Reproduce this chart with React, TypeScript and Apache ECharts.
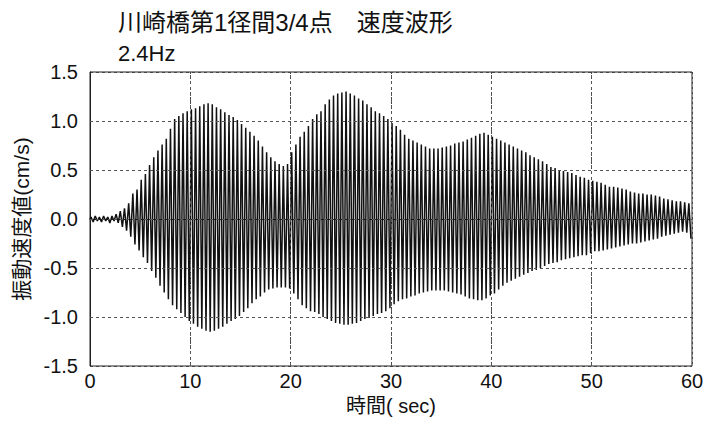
import React, { useEffect, useRef } from "react";
import * as echarts from "echarts";

const TITLE = "川崎橋第1径間3/4点　速度波形";
const SUBTITLE = "2.4Hz";
const X_NAME = "時間( sec)";
const Y_NAME = "振動速度値(cm/s)";
const FREQ_HZ = 2.4;
const X_TICKS = [0, 10, 20, 30, 40, 50, 60];
const Y_TICKS = [-1.5, -1.0, -0.5, 0.0, 0.5, 1.0, 1.5];

// positive peak of each cycle (cm/s)
const POS_PEAKS = [
  0.02, 0.03, 0.02, 0.03, 0.02, 0.03, 0.05, 0.08, 0.11, 0.16, 0.26, 0.3,
  0.4, 0.46, 0.55, 0.63, 0.7, 0.76, 0.82, 0.92, 1.02, 1.05, 1.08, 1.1,
  1.12, 1.13, 1.15, 1.17, 1.18, 1.17, 1.14, 1.12, 1.09, 1.06, 1.04, 1.01,
  0.97, 0.93, 0.89, 0.85, 0.8, 0.74, 0.68, 0.63, 0.59, 0.56, 0.54, 0.56,
  0.68, 0.76, 0.84, 0.89, 0.95, 1.02, 1.07, 1.1, 1.17, 1.22, 1.26, 1.28,
  1.29, 1.3, 1.28, 1.26, 1.23, 1.21, 1.17, 1.14, 1.1, 1.08, 1.05, 1.02,
  0.98, 0.95, 0.91, 0.86, 0.82, 0.8, 0.78, 0.76, 0.74, 0.72, 0.72, 0.72,
  0.73, 0.74, 0.75, 0.77, 0.78, 0.79, 0.81, 0.83, 0.85, 0.87, 0.88, 0.86,
  0.84, 0.82, 0.8, 0.78, 0.76, 0.74, 0.72, 0.7, 0.68, 0.65, 0.63, 0.61,
  0.59, 0.56, 0.53, 0.52, 0.5, 0.49, 0.48, 0.47, 0.45, 0.43, 0.42, 0.4,
  0.39, 0.38, 0.37, 0.35, 0.33, 0.33, 0.32, 0.31, 0.3, 0.28, 0.27, 0.26,
  0.26, 0.25, 0.25, 0.24, 0.23, 0.21, 0.2, 0.19, 0.18, 0.18, 0.17, 0.16,
];

// negative peak of each cycle (cm/s)
const NEG_PEAKS = [
  -0.03, -0.02, -0.03, -0.02, -0.04, -0.02, -0.04, -0.08, -0.12, -0.18, -0.26, -0.32,
  -0.39, -0.45, -0.53, -0.6, -0.68, -0.75, -0.82, -0.88, -0.92, -0.96, -1.0, -1.04,
  -1.07, -1.1, -1.12, -1.14, -1.15, -1.14, -1.12, -1.1, -1.07, -1.04, -1.02, -0.99,
  -0.95, -0.91, -0.86, -0.82, -0.79, -0.75, -0.72, -0.71, -0.7, -0.7, -0.7, -0.71,
  -0.76, -0.82, -0.88, -0.91, -0.94, -0.95, -0.97, -1.0, -1.02, -1.04, -1.06, -1.07,
  -1.08, -1.08, -1.07, -1.06, -1.04, -1.02, -1.01, -0.99, -0.97, -0.96, -0.94, -0.91,
  -0.87, -0.84, -0.82, -0.81, -0.79, -0.78, -0.76, -0.75, -0.74, -0.73, -0.73, -0.73,
  -0.73, -0.74, -0.75, -0.76, -0.77, -0.79, -0.81, -0.82, -0.83, -0.83, -0.81, -0.78,
  -0.76, -0.72, -0.68, -0.65, -0.63, -0.61, -0.59, -0.57, -0.55, -0.53, -0.52, -0.5,
  -0.48, -0.46, -0.45, -0.44, -0.42, -0.41, -0.4, -0.39, -0.38, -0.37, -0.37, -0.35,
  -0.33, -0.33, -0.32, -0.31, -0.3, -0.29, -0.28, -0.27, -0.26, -0.25, -0.25, -0.24,
  -0.23, -0.22, -0.21, -0.2, -0.18, -0.17, -0.16, -0.15, -0.14, -0.13, -0.14, -0.2,
];

const FONT = "'Liberation Sans', Arial, sans-serif";
const CJK = "'Liberation Sans', 'Noto Sans CJK JP', sans-serif";

export default function App() {
  const ref = useRef<HTMLDivElement>(null);
  useEffect(() => {
    if (!ref.current) return;
    const chart = echarts.init(ref.current, undefined, { renderer: "svg" });
    const data: [number, number][] = [[0, 0]];
    POS_PEAKS.forEach((p, k) => {
      data.push([(k + 0.25) / FREQ_HZ, p]);
      data.push([(k + 0.75) / FREQ_HZ, NEG_PEAKS[k]]);
    });
    const gridOverlay = [
      ...Y_TICKS.slice(1, -1).map((v) => ({ yAxis: v })),
      ...X_TICKS.slice(1, -1).map((v) => ({ xAxis: v })),
    ];
    chart.setOption({
      animation: false,
      backgroundColor: "#fff",
      title: [
        { text: TITLE, left: 113, top: 5, textStyle: { fontFamily: CJK, fontSize: 24, fontWeight: "normal", color: "#111" } },
        { text: SUBTITLE, left: 113, top: 37, textStyle: { fontFamily: FONT, fontSize: 22, fontWeight: "normal", color: "#111" } },
      ],
      grid: { left: 90, right: 22, top: 72, bottom: 72, show: true, borderColor: "#222", borderWidth: 1 },
      xAxis: {
        type: "value",
        min: X_TICKS[0],
        max: X_TICKS[X_TICKS.length - 1],
        interval: 10,
        name: X_NAME,
        nameLocation: "middle",
        nameGap: 29,
        nameTextStyle: { fontFamily: CJK, fontSize: 20, color: "#111" },
        axisLine: { lineStyle: { color: "#222" } },
        axisTick: { show: false },
        axisLabel: { fontFamily: FONT, fontSize: 20, color: "#111", margin: 5 },
        splitLine: { show: true, lineStyle: { color: "#444", type: [2, 3], width: 1 } },
      },
      yAxis: {
        type: "value",
        min: Y_TICKS[0],
        max: Y_TICKS[Y_TICKS.length - 1],
        interval: 0.5,
        name: Y_NAME,
        nameLocation: "middle",
        nameGap: 58,
        nameRotate: 90,
        nameTextStyle: { fontFamily: CJK, fontSize: 21, color: "#111" },
        axisLine: { lineStyle: { color: "#222" } },
        axisTick: { show: false },
        axisLabel: { fontFamily: FONT, fontSize: 20, color: "#111", margin: 12, formatter: (v: number) => v.toFixed(1) },
        splitLine: { show: true, lineStyle: { color: "#444", type: [3, 3], width: 1 } },
      },
      series: [
        {
          type: "line",
          data,
          showSymbol: false,
          symbol: "none",
          lineStyle: { color: "#111", width: 1.5 },
          markLine: {
            silent: true,
            symbol: "none",
            label: { show: false },
            lineStyle: { color: "#555", type: [3, 3], width: 1 },
            data: gridOverlay,
          },
        },
      ],
    });
    return () => chart.dispose();
  }, []);
  return <div ref={ref} style={{ width: 714, height: 438, position: "absolute", left: 0, top: 0 }} />;
}
